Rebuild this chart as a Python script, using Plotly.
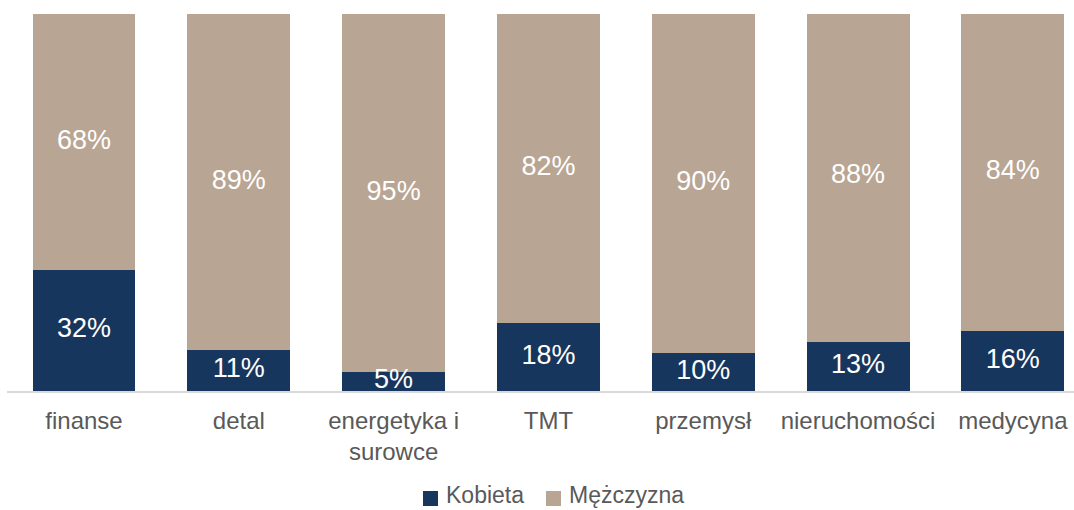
import plotly.graph_objects as go

categories = ["finanse", "detal", "energetyka i<br>surowce", "TMT", "przemysł", "nieruchomości", "medycyna"]
kobieta = [32, 11, 5, 18, 10, 13, 16]
mezczyzna = [68, 89, 95, 82, 90, 88, 84]
series_names = ["Kobieta", "Mężczyzna"]
colors = ["#17365D", "#B9A594"]

x = list(range(len(categories)))
FONT = "Liberation Sans, Arial, sans-serif"
W, H = 1074, 510
ML, MR, MT, MB = 7, 0, 14, 119
PW, PH = W - ML - MR, H - MT - MB

fig = go.Figure()
for name, vals, col in zip(series_names, [kobieta, mezczyzna], colors):
    fig.add_trace(go.Bar(x=x, y=vals, name=name, marker=dict(color=col, line=dict(width=0)),
                         width=0.665, showlegend=False, hoverinfo="skip"))

# labels at segment centres
k_mid = [v / 2 for v in kobieta]
m_mid = [k + m / 2 for k, m in zip(kobieta, mezczyzna)]
fig.add_trace(go.Scatter(x=x, y=k_mid, mode="text", text=[f"{v}%" for v in kobieta],
                         textfont=dict(color="white", size=27, family=FONT),
                         showlegend=False, cliponaxis=False, hoverinfo="skip"))
fig.add_trace(go.Scatter(x=x, y=m_mid, mode="text", text=[f"{v}%" for v in mezczyzna],
                         textfont=dict(color="white", size=27, family=FONT),
                         showlegend=False, cliponaxis=False, hoverinfo="skip"))

# legend drawn manually (pixel positions -> paper coords)
def px(xp):
    return (xp - ML) / PW
def py(yp):
    return (H - MB - yp) / PH

legend_items = [(423, 445), (546, 568)]
shapes, annotations = [], []
for (sq_x, tx), name, col in zip(legend_items, series_names, colors):
    shapes.append(dict(type="rect", xref="paper", yref="paper",
                       x0=px(sq_x), x1=px(sq_x + 15), y0=py(506), y1=py(491),
                       fillcolor=col, line=dict(width=0)))
    annotations.append(dict(xref="paper", yref="paper", x=px(tx), y=py(495),
                            xanchor="left", yanchor="middle", text=name, showarrow=False,
                            borderpad=0,
                            font=dict(size=23, color="#595959", family=FONT)))

fig.update_layout(
    barmode="stack",
    width=W, height=H,
    margin=dict(l=ML, r=MR, t=MT, b=MB),
    paper_bgcolor="white", plot_bgcolor="white",
    font=dict(family=FONT, color="#595959", size=23),
    bargap=0,
    showlegend=False,
    shapes=shapes,
    annotations=annotations,
    xaxis=dict(range=[-0.4974, 6.395], tickvals=x, ticktext=categories,
               showline=True, linecolor="#D9D9D9", linewidth=1.5, showgrid=False,
               zeroline=False, ticks="", ticklabelstandoff=7,
               tickfont=dict(size=24, color="#595959", family=FONT)),
    yaxis=dict(range=[0, 100], visible=False, showgrid=False, zeroline=False),
)

fig.write_html("out.html", config={"displayModeBar": False},
               post_script="document.body.style.margin='0';document.body.style.overflow='hidden';")
